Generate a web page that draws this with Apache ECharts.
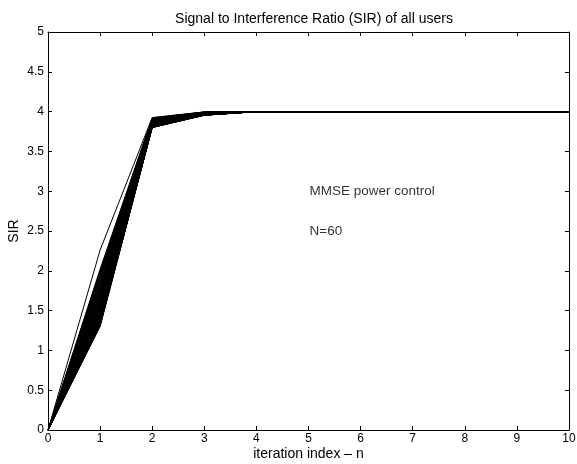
<!DOCTYPE html>
<html>
<head>
<meta charset="utf-8">
<script src="https://cdn.jsdelivr.net/npm/echarts@6/dist/echarts.min.js"></script>
<style>
html,body{margin:0;padding:0;background:#fff;}
#chart{width:577px;height:464px;}
</style>
</head>
<body>
<div id="chart"></div>
<script>
// Iteration index n (x axis)
const iterations = [0, 1, 2, 3, 4, 5, 6, 7, 8, 9, 10];
// SIR of every user at n = 0 (all start at zero)
const sirStart = 0;
// SIR of the 60 users at iteration n = 1
const sirN1 = [2.26,
  2.02, 2.00, 1.98, 1.96, 1.94, 1.92, 1.90, 1.88, 1.86, 1.84,
  1.82, 1.80, 1.78, 1.77, 1.75, 1.73, 1.72, 1.70, 1.69, 1.67,
  1.66, 1.64, 1.63, 1.62, 1.60, 1.59, 1.58, 1.57, 1.55, 1.54,
  1.53, 1.52, 1.51, 1.50, 1.49, 1.48, 1.47, 1.46, 1.45, 1.44,
  1.43, 1.42, 1.41, 1.40, 1.40, 1.39, 1.38, 1.37, 1.37, 1.36,
  1.35, 1.35, 1.34, 1.33, 1.33, 1.32, 1.32, 1.31, 1.30];
// SIR of the 60 users at iteration n = 2
const sirN2 = [3.925,
  3.920, 3.917, 3.914, 3.911, 3.908, 3.905, 3.902, 3.899, 3.896, 3.893,
  3.890, 3.887, 3.885, 3.882, 3.879, 3.876, 3.874, 3.871, 3.868, 3.866,
  3.863, 3.861, 3.858, 3.856, 3.853, 3.851, 3.849, 3.846, 3.844, 3.842,
  3.840, 3.838, 3.836, 3.834, 3.832, 3.830, 3.828, 3.826, 3.824, 3.822,
  3.820, 3.818, 3.817, 3.815, 3.814, 3.812, 3.811, 3.810, 3.809, 3.808,
  3.807, 3.806, 3.805, 3.804, 3.803, 3.802, 3.801, 3.800, 3.799];
// SIR of the 60 users at iteration n = 3
const sirN3 = [
  3.996, 3.995, 3.994, 3.993, 3.992, 3.991, 3.990, 3.989, 3.988, 3.987,
  3.986, 3.985, 3.984, 3.983, 3.982, 3.981, 3.980, 3.979, 3.978, 3.977,
  3.976, 3.975, 3.974, 3.973, 3.972, 3.971, 3.970, 3.970, 3.969, 3.968,
  3.967, 3.967, 3.966, 3.965, 3.965, 3.964, 3.963, 3.963, 3.962, 3.962,
  3.961, 3.961, 3.960, 3.960, 3.959, 3.959, 3.958, 3.958, 3.958, 3.957,
  3.957, 3.957, 3.956, 3.956, 3.956, 3.956, 3.955, 3.955, 3.955, 3.955];
// SIR reached by all users from n = 4 onwards
const sirSteady = 4;
// Annotations [x, y, text]
const annotations = [[5, 3.0, 'MMSE power control'], [5, 2.5, 'N=60']];
const yTicks = [0, 0.5, 1, 1.5, 2, 2.5, 3, 3.5, 4, 4.5, 5];

const FONT = 'Liberation Sans, Arial, Helvetica, sans-serif';

const series = sirN1.map((v1, i) => {
  const vals = iterations.map(n => {
    if (n === 0) return sirStart;
    if (n === 1) return v1;
    if (n === 2) return sirN2[i];
    if (n === 3) return sirN3[i];
    return sirSteady;
  });
  return {
    type: 'line',
    data: iterations.map((n, k) => [n, vals[k]]),
    showSymbol: false,
    symbol: 'none',
    lineStyle: { color: '#000', width: 1 },
    silent: true,
    animation: false,
    z: 2
  };
});

series.push({
  type: 'scatter',
  data: annotations.map(a => ({ value: [a[0], a[1]], name: a[2] })),
  symbolSize: 0,
  silent: true,
  animation: false,
  label: {
    show: true,
    position: 'right',
    distance: 1,
    formatter: p => p.name,
    color: '#000',
    fontSize: 13.5,
    fontFamily: FONT
  }
});

const tickStyle = { show: true, inside: true, length: 4, lineStyle: { color: '#000', width: 1 } };
const lineStyle = { show: true, onZero: false, lineStyle: { color: '#000', width: 1 } };

const chart = echarts.init(document.getElementById('chart'), null, { renderer: 'canvas' });
chart.setOption({
  backgroundColor: '#fff',
  animation: false,
  title: {
    text: 'Signal to Interference Ratio (SIR) of all users',
    left: 309,
    top: 7,
    textAlign: 'center',
    textStyle: { color: '#000', fontSize: 14, fontWeight: 'normal', fontFamily: FONT }
  },
  grid: { left: 48, top: 32, right: 8, bottom: 34, containLabel: false, outerBoundsMode: 'none' },
  xAxis: [{
    type: 'value', min: 0, max: 10, interval: 1, position: 'bottom',
    name: 'iteration index \u2013 n', nameLocation: 'middle', nameGap: 17,
    nameMoveOverlap: false,
    nameTextStyle: { color: '#000', fontSize: 14, fontFamily: FONT },
    axisLine: lineStyle, axisTick: tickStyle,
    axisLabel: { color: '#000', fontSize: 12, fontFamily: FONT, margin: 3 },
    splitLine: { show: false }
  }, {
    type: 'value', min: 0, max: 10, interval: 1, position: 'top',
    axisLine: lineStyle, axisTick: tickStyle,
    axisLabel: { show: false }, splitLine: { show: false }
  }],
  yAxis: [{
    type: 'value', min: 0, max: 5, interval: 0.5, position: 'left',
    name: 'SIR', nameLocation: 'middle', nameGap: 27, nameRotate: 90,
    nameMoveOverlap: false,
    nameTextStyle: { color: '#000', fontSize: 14, fontFamily: FONT },
    axisLine: lineStyle, axisTick: tickStyle,
    axisLabel: { color: '#000', fontSize: 12, fontFamily: FONT, margin: 4,
      formatter: v => String(yTicks.find(t => Math.abs(t - v) < 1e-9) ?? v) },
    splitLine: { show: false }
  }, {
    type: 'value', min: 0, max: 5, interval: 0.5, position: 'right',
    axisLine: lineStyle, axisTick: tickStyle,
    axisLabel: { show: false }, splitLine: { show: false }
  }],
  series: series
});
</script>
</body>
</html>
